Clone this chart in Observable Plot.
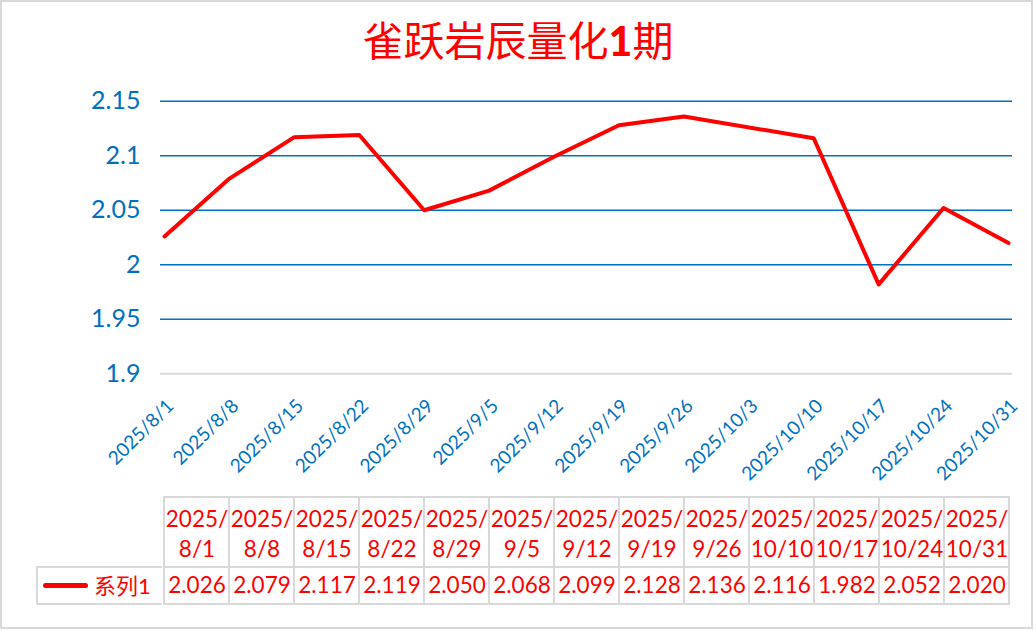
<!DOCTYPE html>
<html>
<head>
<meta charset="utf-8">
<script src="https://cdn.jsdelivr.net/npm/d3@7"></script>
<script src="https://cdn.jsdelivr.net/npm/@observablehq/plot@0.6"></script>
<style>
  html, body { margin: 0; padding: 0; background: #fff; }
  #wrap { position: relative; width: 1036px; height: 631px; background: #fff; overflow: hidden; font-family: Lato, "Noto Sans CJK SC", sans-serif; }
  #border { position: absolute; left: 0; top: 0; width: 1033px; height: 629px; box-sizing: border-box; border: 2px solid #d9d9d9; }
  #title { position: absolute; left: 0; top: 14px; width: 1036px; text-align: center; color: #ff0000; font-family: "Noto Sans CJK SC", sans-serif; font-size: 41px; line-height: 48px; }
  #title b { font-family: Lato, sans-serif; font-weight: 900; }
  .abs { position: absolute; left: 0; }
  #legend { position: absolute; left: 36px; top: 566px; width: 126px; height: 39px; box-sizing: border-box; border: 2px solid #d9d9d9; border-right: none; }
  #legend .sw { position: absolute; left: 5px; top: 15px; width: 45px; height: 5px; background: #ff0000; border-radius: 3px; }
  #legend .lb { position: absolute; left: 56px; top: 0; line-height: 35px; font-size: 22px; color: #ff0000; font-family: Lato, "Noto Sans CJK SC", sans-serif; }
</style>
</head>
<body>
<div id="wrap">
  <div id="border"></div>
  <div id="title">雀跃岩辰量化<b>1</b>期</div>
  <div id="chart" class="abs" style="top:80px"></div>
  <div id="thead" class="abs" style="top:496px"></div>
  <div id="tbody" class="abs" style="top:566px"></div>
  <div id="legend"><div class="sw"></div><div class="lb">系列1</div></div>
</div>
<script>
// ---- data ----
const dates = ["2025-08-01","2025-08-08","2025-08-15","2025-08-22","2025-08-29","2025-09-05","2025-09-12","2025-09-19","2025-09-26","2025-10-10","2025-10-17","2025-10-24","2025-10-31"];
const values = [2.026,2.079,2.117,2.119,2.050,2.068,2.099,2.128,2.136,2.116,1.982,2.052,2.020];
const xTickDates = ["2025-08-01","2025-08-08","2025-08-15","2025-08-22","2025-08-29","2025-09-05","2025-09-12","2025-09-19","2025-09-26","2025-10-03","2025-10-10","2025-10-17","2025-10-24","2025-10-31"];
const yTicks = [1.9, 1.95, 2, 2.05, 2.1, 2.15];
const seriesName = "系列1";

const BLUE = "#0070C0", RED = "#ff0000", GRAY = "#d9d9d9";
const FONT = "Lato, 'Noto Sans CJK SC', sans-serif";
const fmtDate = d => `${d.getUTCFullYear()}/${d.getUTCMonth() + 1}/${d.getUTCDate()}`;

const data = dates.map((s, i) => ({date: new Date(s), value: values[i]}));
const ticks = xTickDates.map(s => new Date(s));

// ---- main chart ----
const chart = Plot.plot({
  width: 1036,
  height: 410,
  marginTop: 20.7,
  marginBottom: 116.7,
  marginLeft: 160,
  marginRight: 24,
  style: {fontFamily: FONT, color: BLUE, background: "transparent", overflow: "visible"},
  x: {type: "utc", domain: [ticks[0], ticks[ticks.length - 1]], insetLeft: 4, insetRight: 4, axis: null},
  y: {domain: [yTicks[0], yTicks[yTicks.length - 1]], axis: null},
  marks: [
    Plot.ruleY(yTicks.slice(1), {stroke: BLUE, strokeWidth: 1.5}),
    Plot.ruleY([yTicks[0]], {stroke: GRAY, strokeWidth: 2}),
    Plot.axisY({ticks: yTicks, tickSize: 0, tickPadding: 20, fontSize: 25, tickFormat: d => String(+d.toFixed(2)), label: null, fill: BLUE}),
    Plot.text(ticks, {x: d => d, y: () => yTicks[0], text: fmtDate, rotate: -45, textAnchor: "end", lineAnchor: "middle", dx: 6, dy: 29, fontSize: 19, fill: BLUE}),
    Plot.line(data, {x: "date", y: "value", stroke: RED, strokeWidth: 4, strokeLinejoin: "round", strokeLinecap: "round"})
  ]
});
document.getElementById("chart").appendChild(chart);

// ---- data table ----
const labels = data.map(d => fmtDate(d.date));
const tableX = {type: "band", domain: labels, padding: 0, axis: null};

const thead = Plot.plot({
  width: 1036, height: 72,
  marginTop: 1, marginBottom: 1, marginLeft: 160, marginRight: 24,
  style: {fontFamily: FONT, background: "transparent", overflow: "visible"},
  x: tableX,
  y: {type: "band", domain: ["h"], padding: 0, axis: null},
  marks: [
    Plot.cell(labels, {x: d => d, y: () => "h", fill: "white", stroke: GRAY, strokeWidth: 2, inset: 0}),
    Plot.text(labels, {x: d => d, y: () => "h", text: d => d.replace(/^(\d+\/)/, "$1\n"), fill: RED, fontSize: 22.5, lineHeight: 1.34})
  ]
});
document.getElementById("thead").appendChild(thead);

const tbody = Plot.plot({
  width: 1036, height: 39,
  marginTop: 1, marginBottom: 1, marginLeft: 160, marginRight: 24,
  style: {fontFamily: FONT, background: "transparent", overflow: "visible"},
  x: tableX,
  y: {type: "band", domain: [seriesName], padding: 0, axis: null},
  marks: [
    Plot.cell(data, {x: d => fmtDate(d.date), y: () => seriesName, fill: "white", stroke: GRAY, strokeWidth: 2, inset: 0}),
    Plot.text(data, {x: d => fmtDate(d.date), y: () => seriesName, text: d => d.value.toFixed(3), fill: RED, fontSize: 22.5})
  ]
});
document.getElementById("tbody").appendChild(tbody);
document.querySelector("#legend .lb").textContent = seriesName;
</script>
</body>
</html>
